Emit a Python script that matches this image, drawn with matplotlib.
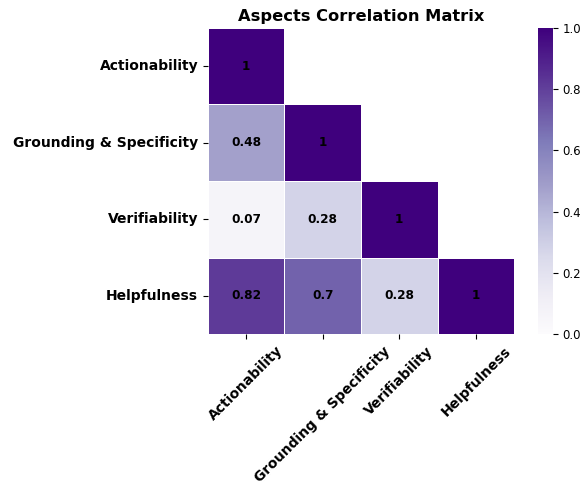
import numpy as np
import matplotlib
matplotlib.use("Agg")
import matplotlib.pyplot as plt
import seaborn as sns

labels = ["Actionability", "Grounding & Specificity", "Verifiability", "Helpfulness"]
corr = np.array([
    [1.00, 0.48, 0.07, 0.82],
    [0.48, 1.00, 0.28, 0.70],
    [0.07, 0.28, 1.00, 0.28],
    [0.82, 0.70, 0.28, 1.00],
])
annot_text = np.array([
    ["1", "0.48", "0.07", "0.82"],
    ["0.48", "1", "0.28", "0.7"],
    ["0.07", "0.28", "1", "0.28"],
    ["0.82", "0.7", "0.28", "1"],
])

mask = np.triu(np.ones_like(corr, dtype=bool), k=1)

fig = plt.figure(figsize=(5.87, 4.82), dpi=100)
ax = fig.add_axes([0.354, 0.307, 0.522, 0.635])
cax = fig.add_axes([0.917, 0.307, 0.025, 0.635])

sns.heatmap(corr, mask=mask, annot=annot_text, fmt="", cmap="Purples",
            vmin=0, vmax=1, linewidths=0.6, linecolor="white",
            annot_kws={"size": 8.7, "weight": "bold", "color": "black"},
            ax=ax, cbar_ax=cax)

ax.set_xticks(np.arange(len(labels)) + 0.5)
ax.set_yticks(np.arange(len(labels)) + 0.5)
ax.set_xticklabels(labels, rotation=45, fontsize=10, fontweight="bold")
ax.set_yticklabels(labels, rotation=0, fontsize=10, fontweight="bold")
ax.set_title("Aspects Correlation Matrix", fontsize=11.7, fontweight="bold", pad=5)
cax.tick_params(labelsize=8.5)
cax.set_yticks([0.0, 0.2, 0.4, 0.6, 0.8, 1.0])

fig.savefig("out.png", dpi=100)
